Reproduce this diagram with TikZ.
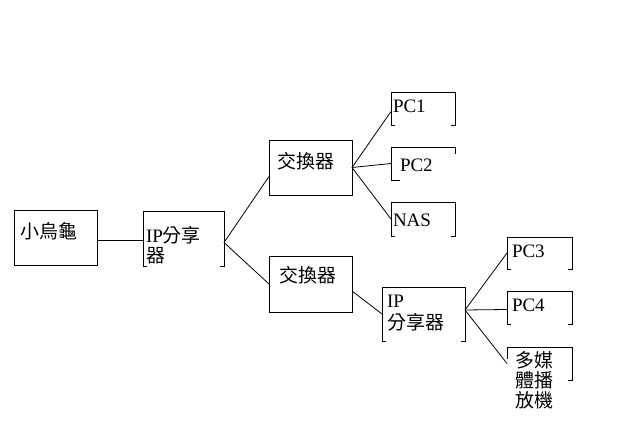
\documentclass[tikz,border=0pt]{standalone}
\usepackage{fontspec}
\setmainfont{Liberation Serif}
\newfontfamily\cjk{Noto Sans CJK TC}
\begin{document}
\begin{tikzpicture}[x=1pt, y=-1pt, line width=0.8pt, line join=miter,
    every node/.style={inner sep=0pt, outer sep=0pt, anchor=north west},
    frame/.style={draw},
    txt/.style={anchor=base west, align=left, font=\fontsize{19}{20}\selectfont}]
        \useasboundingbox (0,0) rectangle (619,443);
        % boxes
        \node[frame, minimum width=83, minimum height=55] (turtle) at (14,210) {};
        \node[minimum width=81, minimum height=55] (ip1) at (143,211) {};
        \node[frame, minimum width=83, minimum height=55] (sw1) at (269,140) {};
        \node[frame, minimum width=83, minimum height=56] (sw2) at (269,256) {};
        \node[minimum width=64, minimum height=33] (pc1) at (391,92) {};
        \node[minimum width=64, minimum height=33] (pc2) at (391,147) {};
        \node[minimum width=64, minimum height=34] (nas) at (391,202) {};
        \node[minimum width=83, minimum height=54] (ip2) at (382,287) {};
        \node[minimum width=65, minimum height=32] (pc3) at (507,237) {};
        \node[minimum width=65, minimum height=33] (pc4) at (507,291) {};
        \node[minimum width=65, minimum height=33] (media) at (507,347) {};
        % open frames
        \foreach \b in {ip1,pc1,nas,ip2,pc3,pc4}
            \draw ([xshift=4pt]\b.south west) -- (\b.south west) -- (\b.north west) -- (\b.north east) -- (\b.south east) -- ([xshift=-4pt]\b.south east);
        \draw ([xshift=9pt]pc2.south west) -- (pc2.south west) -- (pc2.north west) -- (pc2.north east) -- ([yshift=-7pt]pc2.north east);
        \draw ([yshift=-12pt]media.north west) -- (media.north west) -- (media.north east) -- (media.south east) -- ([xshift=-4pt]media.south east);
        % texts (multi-line ones sit on their last line)
        \node[txt] (lturtle) at (20,239) {\cjk 小烏龜};
        \node[txt] (lip1) at (146,263) {IP{\cjk 分享}\\{\cjk 器}};
        \node[txt] (lsw1) at (277,169) {\cjk 交換器};
        \node[txt] (lsw2) at (279,283) {\cjk 交換器};
        \node[txt] (lpc1) at (393,113) {PC1};
        \node[txt] (lpc2) at (400,172) {PC2};
        \node[txt] (lnas) at (393,227) {NAS};
        \node[txt] (lip2) at (387,330) {IP\\[2pt]{\cjk 分享器}};
        \node[txt] (lpc3) at (512,258) {PC3};
        \node[txt] (lpc4) at (512,312) {PC4};
        \node[txt] (lmedia) at (515,408) {{\cjk 多媒}\\{\cjk 體播}\\{\cjk 放機}};
        % links
        \draw ([yshift=-3pt]turtle.east) -- ([yshift=-3pt]turtle.east -| ip1.west);
        \draw ([yshift=-4pt]ip1.east) -- ([yshift=-9pt]sw1.west);
        \draw ([yshift=-4pt]ip1.east) -- (sw2.west);
        \draw (sw1.east) -- ([yshift=-3pt]pc1.west);
        \draw (sw1.east) -- (pc2.west);
        \draw (sw1.east) -- (nas.west);
        \draw ([yshift=-7pt]sw2.east) -- (ip2.west);
        \draw ([yshift=4pt]ip2.east) -- (pc3.west);
        \draw ([yshift=4pt]ip2.east) -- ([yshift=-2pt]pc4.west);
        \draw ([yshift=4pt]ip2.east) -- (media.west);
\end{tikzpicture}
\end{document}
